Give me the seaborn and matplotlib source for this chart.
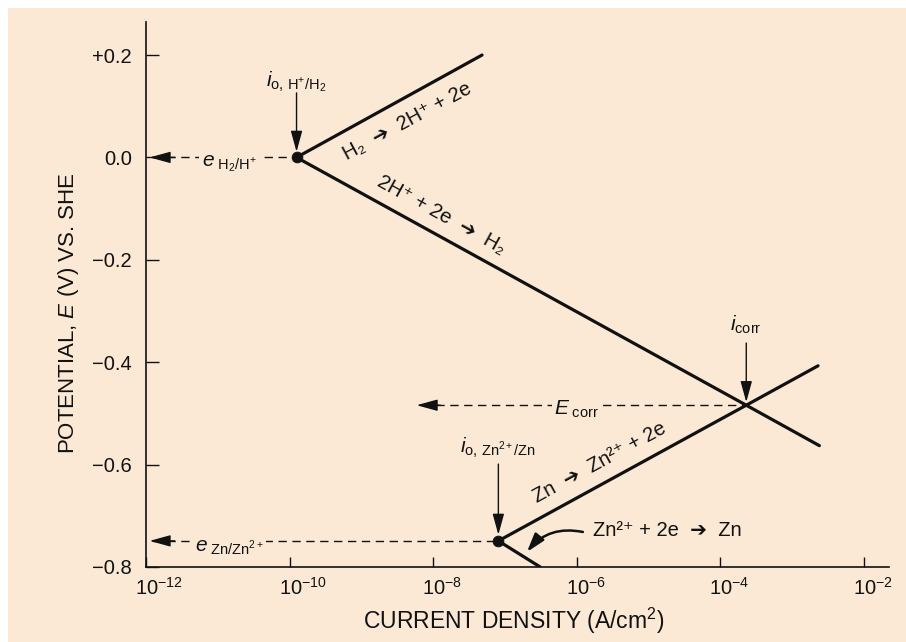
import matplotlib
matplotlib.use("Agg")
import matplotlib.pyplot as plt
from matplotlib.patches import Rectangle
from matplotlib.transforms import ScaledTranslation
import numpy as np
import pandas as pd
import seaborn as sns

# Evans diagram: zinc corroding in acid (exchange current densities and Tafel lines)
i0_h = 1.25e-10           # exchange current density, H+/H2 (A/cm2)
e_h = 0.0                 # equilibrium potential, H2/H+ (V vs SHE)
i0_zn = 8.1e-8            # exchange current density, Zn2+/Zn
e_zn = -0.749             # equilibrium potential, Zn/Zn2+
i_corr = 2.3e-4           # corrosion current density
e_corr = -0.484           # corrosion potential

h2_ox_i = [i0_h, 4.8e-8]
h2_ox_e = [e_h, 0.200]
h_red_i = [i0_h, i_corr, 2.4e-3]
h_red_e = [e_h, e_corr, -0.563]
zn_ox_i = [i0_zn, i_corr, 2.3e-3]
zn_ox_e = [e_zn, e_corr, -0.407]
zn_red_i = [i0_zn, 3.1e-7]
zn_red_e = [e_zn, -0.800]

x_ticks = [1e-12, 1e-10, 1e-8, 1e-6, 1e-4, 1e-2]
x_tick_labels = [r"$10^{-12}$", r"$10^{-10}$", r"$10^{-8}$", r"$10^{-6}$", r"$10^{-4}$", r"$10^{-2}$"]
y_ticks = [0.2, 0.0, -0.2, -0.4, -0.6, -0.8]
y_tick_labels = ["+0.2", "0.0", "\u22120.2", "\u22120.4", "\u22120.6", "\u22120.8"]

h2_ox_label = "H\u2082  \u2794  2H\u207a + 2e"
h_red_label = "2H\u207a + 2e  \u2794  H\u2082"
zn_ox_label = "Zn  \u2794  Zn\u00b2\u207a + 2e"
zn_red_label = "Zn\u00b2\u207a + 2e  \u2794  Zn"

BG = "#fbe9d5"
INK = "#111111"

sns.set_theme(style="ticks")
plt.rcParams["font.family"] = ["Liberation Sans", "DejaVu Sans"]
plt.rcParams["mathtext.fontset"] = "custom"
plt.rcParams["mathtext.rm"] = "Liberation Sans"
plt.rcParams["mathtext.it"] = "Liberation Sans:italic"
plt.rcParams["mathtext.bf"] = "Liberation Sans:bold"

fig = plt.figure(figsize=(9.06, 6.42), dpi=100)
fig.patch.set_facecolor("white")
fig.add_artist(Rectangle((8 / 906, 0), 1, (642 - 8) / 642, transform=fig.transFigure,
                         facecolor=BG, edgecolor="none", zorder=-10))
ax = fig.add_axes([146 / 906, 75 / 642, (889 - 146) / 906, (567 - 22) / 642])
ax.set_facecolor("none")

curves = pd.concat([
    pd.DataFrame({"i": h2_ox_i, "E": h2_ox_e, "branch": "H2 oxidation"}),
    pd.DataFrame({"i": h_red_i, "E": h_red_e, "branch": "H+ reduction"}),
    pd.DataFrame({"i": zn_ox_i, "E": zn_ox_e, "branch": "Zn oxidation"}),
    pd.DataFrame({"i": zn_red_i, "E": zn_red_e, "branch": "Zn2+ reduction"}),
])
sns.lineplot(data=curves, x="i", y="E", units="branch", estimator=None, sort=False,
             color=INK, lw=2.3, ax=ax, legend=False)
sns.scatterplot(x=[i0_h, i0_zn], y=[e_h, e_zn], color=INK, s=60, edgecolor=INK,
                ax=ax, zorder=5, legend=False)

ax.set_xscale("log")
ax.set_xlim(1e-12, 10 ** -1.65)
ax.set_ylim(-0.8, 0.2645)
ax.minorticks_off()
ax.set_xticks(x_ticks, x_tick_labels)
ax.set_yticks(y_ticks, y_tick_labels)
ax.tick_params(axis="y", direction="in", length=9, width=1, labelsize=14.5, pad=10, colors=INK)
ax.tick_params(axis="x", direction="in", length=7.5, width=1, labelsize=14.5, pad=7, colors=INK)
# centre the "10" of each power label on its tick
for lab in ax.get_xticklabels():
    lab.set_horizontalalignment("left")
    lab.set_transform(lab.get_transform() + ScaledTranslation(-11 / 100, 0, fig.dpi_scale_trans))
for side in ("top", "right"):
    ax.spines[side].set_visible(False)
for side in ("left", "bottom"):
    ax.spines[side].set_linewidth(1.2)
    ax.spines[side].set_color(INK)

ax.set_xlabel("CURRENT DENSITY (A/cm$^2$)", fontsize=16.5, color=INK)
ax.set_ylabel("POTENTIAL, $E$ (V) VS. SHE", fontsize=16, color=INK)
ax.xaxis.set_label_coords(0.495, -0.072)
ax.yaxis.set_label_coords(-0.087, 0.466)

dash = dict(color=INK, lw=1.0, dashes=(6, 4))
head = dict(arrowstyle="-|>,head_length=0.8,head_width=0.22", color=INK, lw=1.0,
            mutation_scale=16, shrinkA=0, shrinkB=0)
txt_box = dict(facecolor=BG, edgecolor="none", pad=2)

# equilibrium potentials projected onto the potential axis
ax.plot([10 ** -11.9, i0_h], [e_h, e_h], **dash)
ax.plot([10 ** -11.9, i0_zn], [e_zn, e_zn], **dash)
ax.annotate("", xy=(10 ** -11.95, e_h), xytext=(10 ** -11.6, e_h), arrowprops=head)
ax.annotate("", xy=(10 ** -11.95, e_zn), xytext=(10 ** -11.6, e_zn), arrowprops=head)
ax.text(10 ** -10.84, e_h - 0.012, r"$e_{\ \mathrm{H_2/H^{+}}}$", fontsize=15, ha="center",
        va="center", color=INK, bbox=txt_box)
ax.text(10 ** -10.84, e_zn - 0.012, r"$e_{\ \mathrm{Zn/Zn^{2+}}}$", fontsize=15, ha="center",
        va="center", color=INK, bbox=txt_box)

# corrosion potential
ax.plot([10 ** -8.15, i_corr], [e_corr, e_corr], **dash)
ax.annotate("", xy=(10 ** -8.23, e_corr), xytext=(10 ** -7.9, e_corr), arrowprops=head)
ax.text(10 ** -6.0, e_corr - 0.008, r"$E_{\ \mathrm{corr}}$", fontsize=15, ha="center",
        va="center", color=INK, bbox=txt_box)

# current density markers
ax.annotate("", xy=(i0_h, 0.011), xytext=(i0_h, 0.126), arrowprops=head)
ax.text(i0_h, 0.147, r"$i_{\mathrm{o,\,H^{+}/H_{2}}}$", fontsize=15, ha="center",
        va="center", color=INK)
ax.annotate("", xy=(i_corr, e_corr + 0.006), xytext=(i_corr, -0.3625), arrowprops=head)
ax.text(i_corr, -0.327, r"$i_{\mathrm{corr}}$", fontsize=15, ha="center", va="center", color=INK)
ax.annotate("", xy=(i0_zn, e_zn + 0.012), xytext=(i0_zn, -0.599), arrowprops=head)
ax.text(i0_zn, -0.5676, r"$i_{\mathrm{o,\,Zn^{2+}/Zn}}$", fontsize=15, ha="center",
        va="center", color=INK)

# reactions written along each Tafel line
ax.text(10 ** -8.365, 0.071, h2_ox_label, fontsize=14.5, rotation=28.4,
        rotation_mode="anchor", ha="center", va="center", color=INK)
ax.text(10 ** -7.89, -0.1125, h_red_label, fontsize=14.5, rotation=-28.8,
        rotation_mode="anchor", ha="center", va="center", color=INK)
ax.text(10 ** -5.677, -0.597, zn_ox_label, fontsize=14.5, rotation=28.6,
        rotation_mode="anchor", ha="center", va="center", color=INK)
ax.text(10 ** -5.774, -0.728, zn_red_label, fontsize=14.5, ha="left",
        va="center", color=INK)
ax.annotate("", xy=(10 ** -6.694, -0.7707), xytext=(10 ** -5.914, -0.7316),
            arrowprops=dict(arrowstyle="-|>,head_length=0.8,head_width=0.25", color=INK,
                            lw=1.8, mutation_scale=14, shrinkA=0, shrinkB=0,
                            connectionstyle="arc3,rad=0.3"))

fig.savefig("out.png", dpi=100, facecolor=fig.get_facecolor())
